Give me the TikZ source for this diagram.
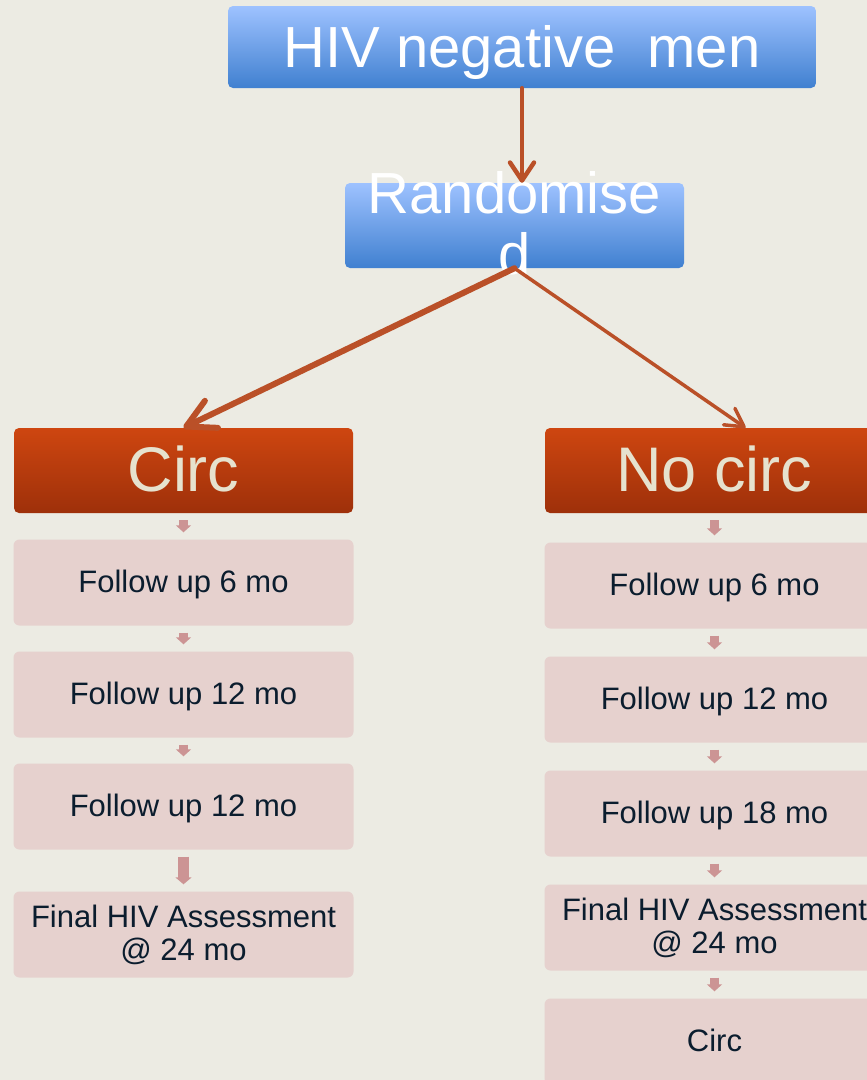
\documentclass[tikz,border=0pt]{standalone}
\usepackage{fontspec}
\setmainfont{Liberation Sans}
\usetikzlibrary{arrows.meta}

\definecolor{paper}{RGB}{236,235,227}
\definecolor{bluetop}{RGB}{158,194,255}
\definecolor{bluebot}{RGB}{64,128,208}
\definecolor{redtop}{RGB}{206,70,16}
\definecolor{redbot}{RGB}{158,48,10}
\definecolor{circtext}{RGB}{230,226,206}
\definecolor{pinkfill}{RGB}{230,209,206}
\definecolor{pinkarrow}{RGB}{204,148,148}
\definecolor{darktext}{RGB}{11,29,46}
\definecolor{rust}{RGB}{186,80,40}

\tikzset{
  bluetext/.style={text=white, inner sep=0pt, font=\fontsize{58}{61}\selectfont},
  bluebox/.style={bluetext, rounded corners=5pt, top color=bluetop, bottom color=bluebot},
  armbox/.style={rounded corners=5pt, top color=redtop, bottom color=redbot,
    text=circtext, inner sep=0pt, minimum width=339pt, minimum height=85pt,
    font=\fontsize{63}{66}\selectfont, text height=42pt, text depth=1pt},
  visitbox/.style={rounded corners=6pt, fill=pinkfill, text=darktext, inner sep=0pt,
    minimum width=340pt, minimum height=86pt,
    font=\fontsize{31}{33}\selectfont, text height=22pt, text depth=3pt},
  flowline/.style={draw=rust, line cap=round},
  stepline/.style={draw=pinkarrow, line width=9pt, shorten <=7pt, shorten >=7pt,
    -{Triangle[length=7pt, width=15pt]}}
}

\begin{document}
\begin{tikzpicture}[x=1pt, y=-1pt]
\useasboundingbox (0,0) rectangle (867,1080);
\fill[paper] (0,0) rectangle (867,1080);
\clip (0,0) rectangle (867,1080);

\node (hiv) [bluebox, minimum width=588pt, minimum height=82pt, text height=40pt, text depth=0pt]
  at (522,47) {HIV negative\ \ men};
\node (rnd) [bluebox, minimum width=339pt, minimum height=85pt] at (514.5,225.5) {};
\node (rndtext) [bluetext, align=center] at (514.5,223) {Randomise\\d};

\node (circ) [armbox] at (183.5,470.5) {Circ};
\node (nocirc) [armbox] at (714.5,470.5) {No circ};

% circ arm
\node (c1) [visitbox] at (183.5,582.5) {Follow up 6 mo};
\node (c2) [visitbox] at (183.5,694.5) {Follow up 12 mo};
\node (c3) [visitbox] at (183.5,806.5) {Follow up 12 mo};
\node (c4) [visitbox, text height=, text depth=, align=center] at (183.5,934.5)
  {Final HIV Assessment\\@ 24 mo};

% no circ arm
\node (n1) [visitbox] at (714.5,585.5) {Follow up 6 mo};
\node (n2) [visitbox] at (714.5,699.5) {Follow up 12 mo};
\node (n3) [visitbox] at (714.5,813.5) {Follow up 18 mo};
\node (n4) [visitbox, text height=, text depth=, align=center] at (714.5,927.5)
  {Final HIV Assessment\\@ 24 mo};
\node (n5) [visitbox] at (714.5,1041.5) {Circ};

\draw[flowline, line width=4.5pt, -{Straight Barb[length=18pt, width=24pt, round]}]
  (hiv.south) -- (hiv.south |- rnd.north);
\draw[flowline, line width=6pt, -{Straight Barb[length=28pt, width=30pt, round]}]
  (rnd.south) -- (circ.north);
\draw[flowline, line width=3.5pt, -{Straight Barb[length=18pt, width=20pt, round]}]
  (rnd.south) -- ([xshift=31pt]nocirc.north);

\draw[stepline] (circ) -- (c1);
\draw[stepline] (c1) -- (c2);
\draw[stepline] (c2) -- (c3);
\draw[stepline, line width=11pt, -{Triangle[length=7pt, width=16pt]}] (c3) -- (c4);

\draw[stepline] (nocirc) -- (n1);
\draw[stepline] (n1) -- (n2);
\draw[stepline] (n2) -- (n3);
\draw[stepline] (n3) -- (n4);
\draw[stepline] (n4) -- (n5);
\end{tikzpicture}
\end{document}
